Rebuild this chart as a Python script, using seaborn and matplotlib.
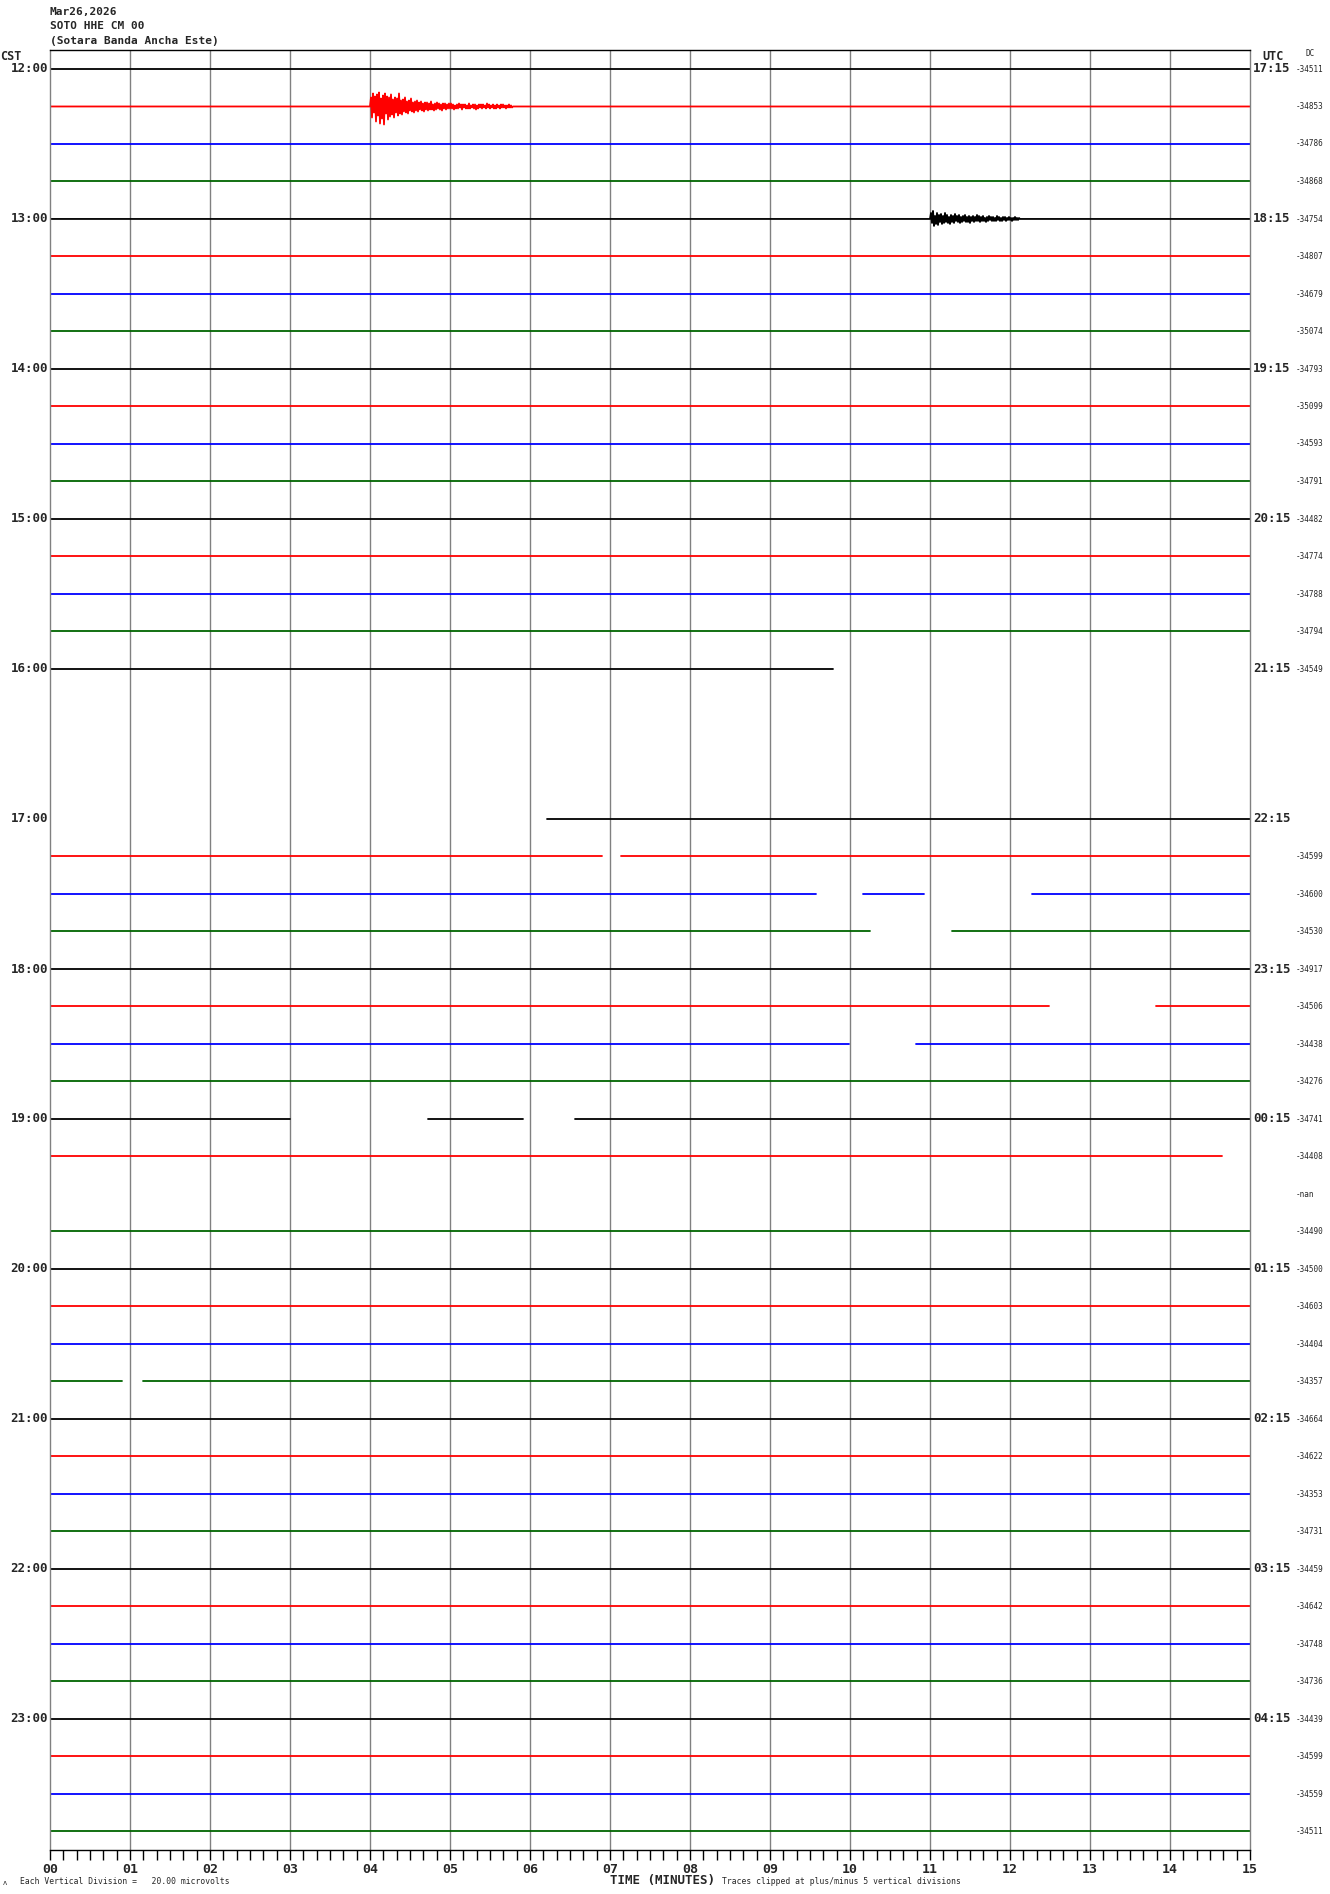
import numpy as np
import pandas as pd
import matplotlib
matplotlib.use("Agg")
import matplotlib.pyplot as plt
import seaborn as sns

# header text
date_txt = "Mar26,2026"
chan_txt = "SOTO HHE CM 00"
name_txt = "(Sotara Banda Ancha Este)"

# one line every 15 minutes, 12:00 .. 23:45 CST
cst_labels = ["12:00", "13:00", "14:00", "15:00", "16:00", "17:00",
              "18:00", "19:00", "20:00", "21:00", "22:00", "23:00"]
utc_labels = ["17:15", "18:15", "19:15", "20:15", "21:15", "22:15",
              "23:15", "00:15", "01:15", "02:15", "03:15", "04:15"]
dc_labels = ["-34511", "-34853", "-34786", "-34868",
             "-34754", "-34807", "-34679", "-35074",
             "-34793", "-35099", "-34593", "-34791",
             "-34482", "-34774", "-34788", "-34794",
             "-34549", "", "", "",
             "", "-34599", "-34600", "-34530",
             "-34917", "-34506", "-34438", "-34276",
             "-34741", "-34408", "-nan", "-34490",
             "-34500", "-34603", "-34404", "-34357",
             "-34664", "-34622", "-34353", "-34731",
             "-34459", "-34642", "-34748", "-34736",
             "-34439", "-34599", "-34559", "-34511"]
trace_colors = ["black", "red", "blue", "#006400"]

# data segments (minutes) for lines with gaps; all other lines run 0-15
gaps = {
    16: [(0, 9.79)],
    17: [], 18: [], 19: [],
    20: [(6.21, 15)],
    21: [(0, 6.9), (7.14, 15)],
    22: [(0, 9.57), (10.16, 10.93), (12.27, 15)],
    23: [(0, 10.25), (11.27, 15)],
    25: [(0, 12.49), (13.82, 15)],
    26: [(0, 9.99), (10.82, 15)],
    28: [(0, 3.0), (4.73, 5.91), (6.56, 15)],
    29: [(0, 14.65)],
    30: [],
    35: [(0, 0.9), (1.16, 15)],
}

# event on the 12:15 line, starting 4:00, one value every 0.75 s (pixels, up +)
quake_start = 4.0
quake_px = [0, 9, -11, 13, -6, 10, -15, 12, -9, 14, -17, 8, -12, 11, -18, 13,
            -7, 10, -13, 9, -10, 12, -8, 7, -11, 9, -6, 8, -9, 13, -7, 6,
            -8, 7, -5, 9, -6, 5, -7, 6, -4, 8, -5, 4, -6, 5, -4, 6,
            -5, 4, -3, 5, -4, 3, -5, 4, -3, 4, -4, 3, -3, 5, -3, 2,
            -4, 3, -3, 4, -2, 3, -3, 2, -4, 3, -2, 3, -3, 2, -2, 3,
            -2, 3, -2, 2, -3, 1, -2, 2, -2, 3, -1, 2, -3, 2, -1, 2,
            -2, 1, -2, 3, -2, 1, -1, 2, -2, 2, -3, 1, -2, 2, -1, 2,
            -2, 2, -1, 1, -2, 3, -1, 2, -2, 1, -1, 2, -2, 1, -2, 2,
            -1, 1, -2, 2, -1, 2, -1, 1, -2, 1, -1, 2, -1, 1, -1, 0]
# event on the 13:00 line, starting 11:00
local_start = 11.0
local_px = [0, 6, -4, 8, -7, 3, -5, 6, -6, 4, -3, 5, -5, 3, -4, 6,
            -3, 4, -4, 2, -5, 4, -3, 3, -4, 5, -2, 3, -3, 4, -4, 2,
            -3, 3, -2, 4, -3, 2, -3, 3, -4, 2, -2, 3, -3, 2, -2, 4,
            -2, 3, -3, 2, -2, 3, -2, 1, -3, 2, -2, 3, -1, 2, -2, 2,
            -2, 1, -2, 3, -1, 2, -2, 1, -2, 2, -1, 2, -2, 1, -1, 2,
            -1, 1, -2, 1, -1, 2, -1, 1, -1, 1, 0]
sample_min = 0.0125
px_per_line = 37.5

rows = []
for i in range(48):
    segs = gaps.get(i, [(0, 15)])
    for k, (a, b) in enumerate(segs):
        pts = [(a, 0.0), (b, 0.0)]
        if i == 1:
            ev = [(quake_start + j * sample_min, v) for j, v in enumerate(quake_px)]
            pts = [(a, 0.0)] + ev + [(b, 0.0)]
        if i == 4:
            ev = [(local_start + j * sample_min, v) for j, v in enumerate(local_px)]
            pts = [(a, 0.0)] + ev + [(b, 0.0)]
        for t, v in pts:
            rows.append({"minute": t, "y": i - v / px_per_line,
                         "seg": f"{i}_{k}", "color": trace_colors[i % 4]})
df = pd.DataFrame(rows)

sns.set_style("white")
plt.rcParams["font.family"] = ["DejaVu Sans Mono", "DejaVu Sans"]

W, H = 1330, 1894
fig = plt.figure(figsize=(W / 100, H / 100), dpi=100)
ax = fig.add_axes([50 / W, 1 - 1850 / H, 1200 / W, 1800 / H])

for c in trace_colors:
    sub = df[df.color == c]
    sns.lineplot(data=sub, x="minute", y="y", units="seg", estimator=None,
                 sort=False, color=c, lw=1.3, ax=ax, legend=False)

for m in range(1, 15):
    ax.axvline(m, color="#808080", lw=1.0, zorder=0)

ax.set_xlim(0, 15)
ax.set_ylim(47 + 19 / px_per_line, -19 / px_per_line)
ax.set_xlabel("")
ax.set_ylabel("")
ax.set_yticks([])
ax.set_xticks(range(16))
ax.set_xticklabels([f"{m:02d}" for m in range(16)], fontsize=9.5, fontweight="bold")
ax.set_xticks(np.arange(0, 15.01, 1 / 6), minor=True)
ax.tick_params(axis="x", which="both", direction="out", length=7.5, width=1,
               color="black", pad=2, bottom=True)
for s in ["left", "right"]:
    ax.spines[s].set_color("#808080")
for s in ["top", "bottom"]:
    ax.spines[s].set_color("black")
for s in ax.spines.values():
    s.set_linewidth(1.0)


def put(x, y, s, **kw):
    fig.text(x / W, 1 - y / H, s, **kw)


hdr = dict(fontsize=8, fontweight="bold", va="center", ha="left")
put(50, 12, date_txt, **hdr)
put(50, 26, chan_txt, **hdr)
put(50, 41, name_txt, **hdr)
put(0, 56, "CST", fontsize=8.5, fontweight="bold", va="center", ha="left")
put(1262, 56, "UTC", fontsize=8.5, fontweight="bold", va="center", ha="left")
put(1306, 54, "DC", fontsize=5.5, va="center", ha="left")

for h in range(12):
    y = 69 + 4 * h * px_per_line
    put(48, y, cst_labels[h], fontsize=9, fontweight="bold", va="center", ha="right")
    put(1253, y, utc_labels[h], fontsize=9, fontweight="bold", va="center", ha="left")
for i, lab in enumerate(dc_labels):
    if lab:
        put(1296, 69 + i * px_per_line, lab, fontsize=5.5, va="center", ha="left")

put(662, 1880, "TIME (MINUTES)", fontsize=9, fontweight="bold", va="center", ha="center")
put(722, 1881, "Traces clipped at plus/minus 5 vertical divisions", fontsize=5.8,
    va="center", ha="left")
put(20, 1881, "Each Vertical Division =   20.00 microvolts", fontsize=5.8,
    va="center", ha="left")
put(3, 1883, "ʌ", fontsize=5, va="center", ha="left")

fig.savefig("out.png", dpi=100)
